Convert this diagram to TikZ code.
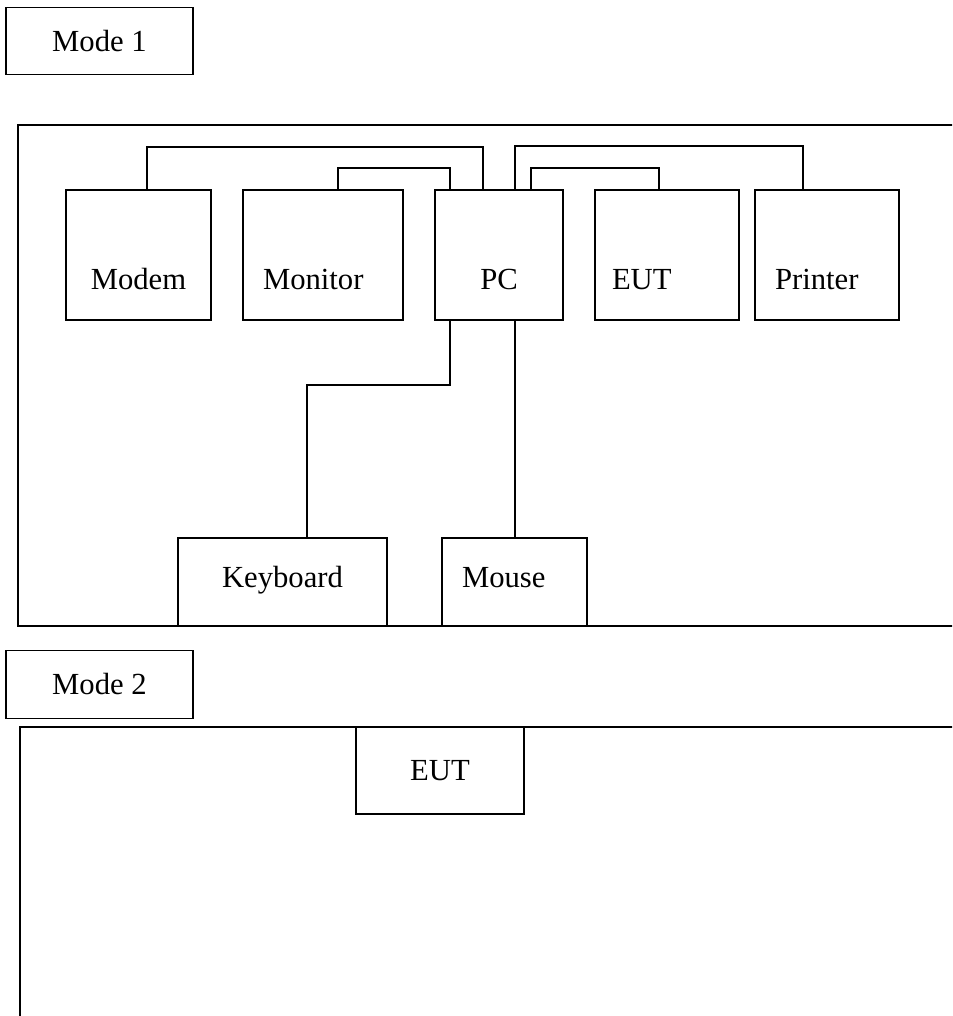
\documentclass[tikz,border=0pt]{standalone}
\usepackage{fontspec}
\setmainfont{Liberation Serif}
\usetikzlibrary{positioning}
\tikzset{
  setupbox/.style={draw, line width=0.9pt, inner sep=0pt, outer sep=0pt, font=\fontsize{23}{27}\selectfont},
  modebox/.style={setupbox, minimum width=140.25pt, minimum height=50.5pt},
  devbox/.style={setupbox, minimum height=97.5pt, text height=56pt, text depth=4pt},
  lowbox/.style={setupbox, minimum height=66pt, text height=16pt, text depth=8.5pt},
  cable/.style={line width=0.9pt},
  frame/.style={line width=0.9pt}
}

\begin{document}
\begin{tikzpicture}[x=0.75pt, y=0.75pt]
  \path[use as bounding box, clip] (0,0) rectangle (952,-1016);

  % the two set-up frames
  \draw[frame] (18,-125) rectangle (980,-626);
  \draw[frame] (20,-727) rectangle (980,-1040);

  \node[modebox] (mode1) at (99.5,-41) {Mode 1};
  \node[modebox] (mode2) at (99.5,-684.5) {Mode 2};

  % mode 1 devices
  \node[devbox, minimum width=108.75pt] (modem) at (138.5,-255) {Modem};
  \node[devbox, inner xsep=15pt, text width=90pt, align=left, right=24pt of modem] (monitor) {Monitor};
  \node[devbox, minimum width=96pt, right=24pt of monitor] (pc) {PC};
  \node[devbox, inner xsep=12.75pt, text width=82.5pt, align=left, right=24pt of pc] (eut) {EUT};
  \node[devbox, inner xsep=15pt, text width=78pt, align=left, right=12pt of eut] (printer) {Printer};
  \node[lowbox, minimum width=156.75pt] (kbd) at (282.5,-582) {Keyboard};
  \node[lowbox, inner xsep=15pt, text width=78.75pt, align=left, right=41.25pt of kbd] (mouse) {Mouse};

  \draw[cable] ([xshift=6.4pt]modem.north) -- ++(0,32.25pt) -| ([xshift=-12pt]pc.north);
  \draw[cable] ([xshift=11.25pt]monitor.north) -- ++(0,16.5pt) -| ([xshift=-36.75pt]pc.north);
  \draw[cable] ([xshift=12pt]pc.north) -- ++(0,33pt) -| ([xshift=-18pt]printer.north);
  \draw[cable] ([xshift=24pt]pc.north) -- ++(0,16.5pt) -| ([xshift=-6pt]eut.north);
  \draw[cable] ([xshift=-36.75pt]pc.south) -- ++(0,-48.75pt) -| ([xshift=18.4pt]kbd.north);
  \draw[cable] ([xshift=12pt]pc.south) -- ([xshift=12pt]pc.south |- mouse.north);

  % mode 2
  \node[setupbox, minimum width=126pt, minimum height=65.25pt] (eutb) at (440,-770.5) {EUT};
\end{tikzpicture}
\end{document}
